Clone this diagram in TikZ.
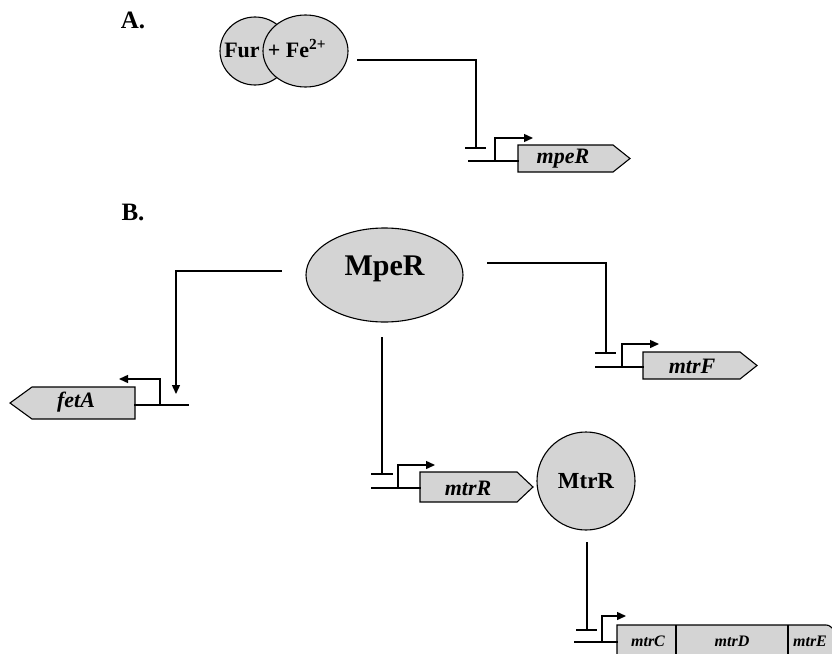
\documentclass[tikz,border=0pt]{standalone}
\usepackage{fontspec}
\setmainfont{Liberation Serif}
\usetikzlibrary{arrows.meta,shapes.geometric}
\definecolor{protgray}{HTML}{D4D4D4}
\newcommand\genefont{\fontsize{22}{22}\selectfont\bfseries\itshape}
\newcommand\opnfont{\fontsize{16}{16}\selectfont\bfseries\itshape}
\newcommand\panelfont{\fontsize{25}{25}\selectfont\bfseries}
\newcommand\furfont{\fontsize{22}{22}\selectfont\bfseries}
\begin{document}
\begin{tikzpicture}[x=1pt,y=-1pt,
  conn/.style={line width=1.4pt,line cap=rect},
  shapeline/.style={draw,line width=1.1pt,fill=protgray},
  prot/.style={shapeline,ellipse,inner sep=0pt},
  tip/.style={-{Triangle[length=9pt,width=8pt]}},
  genelbl/.style={font=\genefont,inner sep=0pt},
  opnlbl/.style={font=\opnfont,inner sep=0pt},
  panel/.style={font=\panelfont,inner sep=0pt}]
\useasboundingbox (0,0) rectangle (832,653);
\clip (0,0) rectangle (832,653);

% panel labels
\node[panel] (lblA) at (133,20) {A.};
\node[panel] (lblB) at (133,212) {B.};

% ---------- A ----------
\node[prot,minimum width=70,minimum height=68] (fur) at (255,51) {};
\node[prot,minimum width=85,minimum height=72] (fe) at (305.5,51) {};
\node[font=\furfont,inner sep=0pt,anchor=base] (furtxt) at (242,57) {Fur};
\node[font=\furfont,inner sep=0pt,anchor=base] (fetxt) at (297,57) {+ Fe\textsuperscript{2+}};

\draw[shapeline] (518,145) -- (613,145) -- (630,158.5) -- (613,172) -- (518,172) -- cycle;
\node[genelbl] (mpeRg) at (563,159) {mpeR};
\coordinate (furR) at (358,60);
\coordinate (furK) at (476,60);
\coordinate (furB) at (476,148);
\draw[conn] (furR) -- (furK) -- (furB);
\draw[conn] (466,148) -- (485,148);
\draw[conn] (469,161) -- (518,161);
\draw[conn,tip] (495,161) -- (495,138) -- (533,138);

% ---------- B ----------
\node[prot,minimum width=157,minimum height=94] (mpeR) at (384.5,275) {};
\node[font=\fontsize{30}{30}\selectfont\bfseries,inner sep=0pt] (mpeRtxt) at (384.5,269) {MpeR};

% fetA (left)
\draw[shapeline] (135,387) -- (32,387) -- (10,403) -- (32,419) -- (135,419) -- cycle;
\node[genelbl] (fetAg) at (76,402) {fetA};
\coordinate (mpL) at (281,271);
\coordinate (mpLK) at (176,271);
\coordinate (fetT) at (176,394);
\draw[conn] (mpL) -- (mpLK);
\draw[conn,tip] (mpLK) -- (fetT);
\draw[conn] (135,405) -- (188,405);
\draw[conn,tip] (160,405) -- (160,379) -- (119,379);

% mtrF (right)
\draw[shapeline] (643,352) -- (740,352) -- (757,365.5) -- (740,379) -- (643,379) -- cycle;
\node[genelbl] (mtrFg) at (692,366) {mtrF};
\coordinate (mpRt) at (488,263);
\coordinate (mpRK) at (606,263);
\coordinate (mtrFb) at (606,353);
\draw[conn] (mpRt) -- (mpRK) -- (mtrFb);
\draw[conn] (596,353) -- (615,353);
\draw[conn] (596,367) -- (643,367);
\draw[conn,tip] (622,367) -- (622,344) -- (659,344);

% mtrR (middle)
\draw[shapeline] (420,472) -- (517,472) -- (533,487) -- (517,502) -- (420,502) -- cycle;
\node[genelbl] (mtrRg) at (468,488) {mtrR};
\coordinate (mpBt) at (382,338);
\coordinate (mtrRb) at (382,474);
\draw[conn] (mpBt) -- (mtrRb);
\draw[conn] (372,474) -- (392,474);
\draw[conn] (372,488) -- (420,488);
\draw[conn,tip] (398,488) -- (398,465) -- (435,465);

% MtrR protein
\node[shapeline,circle,minimum size=98,inner sep=0pt] (mtrR) at (586,481) {};
\node[font=\fontsize{23}{23}\selectfont\bfseries,inner sep=0pt] (mtrRtxt) at (586,481) {MtrR};

% mtrCDE operon
\draw[shapeline] (617,660) -- (617,625) -- (826,625) to[out=0,in=135] (834,630) -- (834,660) -- cycle;
\draw[line width=1.1pt] (676,625) -- (676,660);
\draw[line width=1.1pt] (788,625) -- (788,660);
\node[opnlbl] (mtrC) at (648,641) {mtrC};
\node[opnlbl] (mtrD) at (732,641) {mtrD};
\node[opnlbl] (mtrE) at (810,641) {mtrE};
\coordinate (mtrRbot) at (587,543);
\coordinate (opb) at (587,630);
\draw[conn] (mtrRbot) -- (opb);
\draw[conn] (577,630) -- (596,630);
\draw[conn] (575,642) -- (617,642);
\draw[conn,tip] (602,642) -- (602,616) -- (626,616);
\end{tikzpicture}
\end{document}
